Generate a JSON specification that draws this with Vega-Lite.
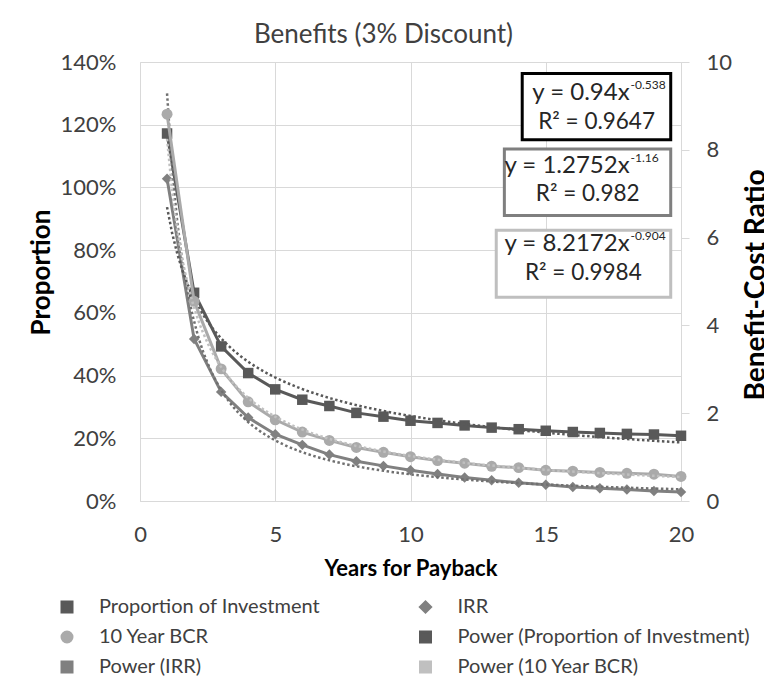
{
  "$schema": "https://vega.github.io/schema/vega-lite/v6.json",
  "autosize": "none",
  "width": 541,
  "height": 439,
  "padding": {"left": 140, "top": 62, "right": 83, "bottom": 182},
  "background": "#ffffff",
  "config": {
    "font": "Lato",
    "view": {"stroke": null},
    "axis": {
      "labelFont": "Lato",
      "titleFont": "Lato",
      "labelFontSize": 22,
      "titleFontSize": 26,
      "titleFontWeight": "bold",
      "labelColor": "#404040",
      "titleColor": "#000000",
      "domainColor": "#d9d9d9",
      "gridColor": "#d9d9d9",
      "tickColor": "#d9d9d9",
      "domainWidth": 1,
      "gridWidth": 1
    },
    "text": {"font": "Lato"}
  },
  "title": {
    "text": "Benefits (3% Discount)",
    "font": "Lato",
    "fontSize": 26,
    "fontWeight": "normal",
    "color": "#404040",
    "anchor": "middle",
    "frame": "group",
    "dx": -27,
    "dy": 18,
    "baseline": "alphabetic",
    "offset": 0
  },
  "datasets": {
    "payback": [
      {"x": 1, "series": "Proportion of Investment", "value": 1.172},
      {"x": 2, "series": "Proportion of Investment", "value": 0.664},
      {"x": 3, "series": "Proportion of Investment", "value": 0.493},
      {"x": 4, "series": "Proportion of Investment", "value": 0.408},
      {"x": 5, "series": "Proportion of Investment", "value": 0.356},
      {"x": 6, "series": "Proportion of Investment", "value": 0.323},
      {"x": 7, "series": "Proportion of Investment", "value": 0.303},
      {"x": 8, "series": "Proportion of Investment", "value": 0.281},
      {"x": 9, "series": "Proportion of Investment", "value": 0.269},
      {"x": 10, "series": "Proportion of Investment", "value": 0.256},
      {"x": 11, "series": "Proportion of Investment", "value": 0.249},
      {"x": 12, "series": "Proportion of Investment", "value": 0.241},
      {"x": 13, "series": "Proportion of Investment", "value": 0.234},
      {"x": 14, "series": "Proportion of Investment", "value": 0.229},
      {"x": 15, "series": "Proportion of Investment", "value": 0.224},
      {"x": 16, "series": "Proportion of Investment", "value": 0.220},
      {"x": 17, "series": "Proportion of Investment", "value": 0.217},
      {"x": 18, "series": "Proportion of Investment", "value": 0.214},
      {"x": 19, "series": "Proportion of Investment", "value": 0.212},
      {"x": 20, "series": "Proportion of Investment", "value": 0.208},
      {"x": 1, "series": "IRR", "value": 1.028},
      {"x": 2, "series": "IRR", "value": 0.517},
      {"x": 3, "series": "IRR", "value": 0.348},
      {"x": 4, "series": "IRR", "value": 0.266},
      {"x": 5, "series": "IRR", "value": 0.213},
      {"x": 6, "series": "IRR", "value": 0.179},
      {"x": 7, "series": "IRR", "value": 0.148},
      {"x": 8, "series": "IRR", "value": 0.127},
      {"x": 9, "series": "IRR", "value": 0.112},
      {"x": 10, "series": "IRR", "value": 0.098},
      {"x": 11, "series": "IRR", "value": 0.086},
      {"x": 12, "series": "IRR", "value": 0.075},
      {"x": 13, "series": "IRR", "value": 0.066},
      {"x": 14, "series": "IRR", "value": 0.058},
      {"x": 15, "series": "IRR", "value": 0.052},
      {"x": 16, "series": "IRR", "value": 0.045},
      {"x": 17, "series": "IRR", "value": 0.041},
      {"x": 18, "series": "IRR", "value": 0.037},
      {"x": 19, "series": "IRR", "value": 0.032},
      {"x": 20, "series": "IRR", "value": 0.029},
      {"x": 1, "series": "10 Year BCR", "value": 8.81},
      {"x": 2, "series": "10 Year BCR", "value": 4.55},
      {"x": 3, "series": "10 Year BCR", "value": 3.01},
      {"x": 4, "series": "10 Year BCR", "value": 2.26},
      {"x": 5, "series": "10 Year BCR", "value": 1.85},
      {"x": 6, "series": "10 Year BCR", "value": 1.57},
      {"x": 7, "series": "10 Year BCR", "value": 1.38},
      {"x": 8, "series": "10 Year BCR", "value": 1.22},
      {"x": 9, "series": "10 Year BCR", "value": 1.11},
      {"x": 10, "series": "10 Year BCR", "value": 1.01},
      {"x": 11, "series": "10 Year BCR", "value": 0.92},
      {"x": 12, "series": "10 Year BCR", "value": 0.86},
      {"x": 13, "series": "10 Year BCR", "value": 0.79},
      {"x": 14, "series": "10 Year BCR", "value": 0.76},
      {"x": 15, "series": "10 Year BCR", "value": 0.70},
      {"x": 16, "series": "10 Year BCR", "value": 0.68},
      {"x": 17, "series": "10 Year BCR", "value": 0.65},
      {"x": 18, "series": "10 Year BCR", "value": 0.63},
      {"x": 19, "series": "10 Year BCR", "value": 0.61},
      {"x": 20, "series": "10 Year BCR", "value": 0.56}
    ]
  },
  "data": {"name": "payback"},
  "layer": [
    {
      "layer": [
        {
          "transform": [{"filter": "datum.series !== '10 Year BCR'"}],
          "mark": {"type": "line", "strokeWidth": 3},
          "encoding": {
            "x": {
              "field": "x", "type": "quantitative",
              "scale": {"domain": [0, 20], "nice": false},
              "axis": {
                "title": "Years for Payback",
                "values": [0, 5, 10, 15, 20],
                "grid": true,
                "ticks": false,
                "labelFlush": false,
                "labelPadding": 23,
                "titleFontSize": 22,
                "titleBaseline": "middle",
                "titleY": 67
              }
            },
            "y": {
              "field": "value", "type": "quantitative",
              "scale": {"domain": [0, 1.4], "nice": false},
              "axis": {
                "orient": "left",
                "title": "Proportion",
                "values": [0, 0.2, 0.4, 0.6, 0.8, 1, 1.2, 1.4],
                "format": ".0%",
                "grid": true,
                "ticks": false,
                "labelPadding": 24,
                "titleAngle": 270,
                "titleX": -99,
                "titleY": 210,
                "titleBaseline": "middle",
                "titleAlign": "center"
              }
            },
            "color": {
              "field": "series", "type": "nominal",
              "scale": {
                "domain": ["Proportion of Investment", "10 Year BCR", "Power (IRR)", "IRR", "Power (Proportion of Investment)", "Power (10 Year BCR)"],
                "range": ["#595959", "#aaaaaa", "#808080", "#808080", "#595959", "#c0c0c0"]
              },
              "legend": {
                "title": null, "orient": "none", "legendX": -83, "legendY": 535, "columns": 2, "columnPadding": 93.5, "rowPadding": 8, "padding": 0,
                "labelFont": "Lato", "labelFontSize": 20, "labelColor": "#404040", "labelLimit": 400, "labelOffset": 22,
                "symbolSize": 100, "symbolOpacity": 1, "symbolStrokeWidth": 3,
                "encode": {"symbols": {"update": {
                  "shape": {"value": {"expr": "datum.value === 'Proportion of Investment' ? 'M-5.8,0H5.8M-0.84,-0.84H0.84V0.84H-0.84Z' : datum.value === 'IRR' ? 'M-5.8,0H5.8M0,-1.1L1.1,0L0,1.1L-1.1,0Z' : datum.value === '10 Year BCR' ? 'M-5.8,0H5.8M0.84,0A0.84,0.84 0 1,1 -0.84,0A0.84,0.84 0 1,1 0.84,0Z' : 'M-6,0h0.4M-4.8,0h0.4M-3.6,0h0.4M-2.4,0h0.4M-1.2,0h0.4M0,0h0.4M1.2,0h0.4M2.4,0h0.4M3.6,0h0.4M4.8,0h0.4M6,0h0.4'"}},
                  "stroke": {"value": {"expr": "scale('color', datum.value)"}},
                  "fill": {"value": {"expr": "scale('color', datum.value)"}},
                  "strokeWidth": {"value": 3},
                  "size": {"value": 100},
                  "opacity": {"value": 1}
                }}}
              }
            }
          }
        },
        {
          "transform": [{"filter": "datum.series !== '10 Year BCR'"}],
          "mark": {"type": "point", "filled": true, "opacity": 1, "size": 110},
          "encoding": {
            "x": {"field": "x", "type": "quantitative"},
            "y": {"field": "value", "type": "quantitative"},
            "color": {
              "field": "series", "type": "nominal",
              "legend": {
                "title": null, "orient": "none", "legendX": -83, "legendY": 535, "columns": 2, "columnPadding": 93.5, "rowPadding": 8, "padding": 0,
                "labelFont": "Lato", "labelFontSize": 20, "labelColor": "#404040", "labelLimit": 400, "labelOffset": 22,
                "symbolSize": 100, "symbolOpacity": 1, "symbolStrokeWidth": 3,
                "encode": {"symbols": {"update": {
                  "shape": {"value": {"expr": "datum.value === 'Proportion of Investment' ? 'M-5.8,0H5.8M-0.84,-0.84H0.84V0.84H-0.84Z' : datum.value === 'IRR' ? 'M-5.8,0H5.8M0,-1.1L1.1,0L0,1.1L-1.1,0Z' : datum.value === '10 Year BCR' ? 'M-5.8,0H5.8M0.84,0A0.84,0.84 0 1,1 -0.84,0A0.84,0.84 0 1,1 0.84,0Z' : 'M-6,0h0.4M-4.8,0h0.4M-3.6,0h0.4M-2.4,0h0.4M-1.2,0h0.4M0,0h0.4M1.2,0h0.4M2.4,0h0.4M3.6,0h0.4M4.8,0h0.4M6,0h0.4'"}},
                  "stroke": {"value": {"expr": "scale('color', datum.value)"}},
                  "fill": {"value": {"expr": "scale('color', datum.value)"}},
                  "strokeWidth": {"value": 3},
                  "size": {"value": 100},
                  "opacity": {"value": 1}
                }}}
              }
            },
            "shape": {
              "field": "series", "type": "nominal",
              "scale": {
                "domain": ["Proportion of Investment", "10 Year BCR", "Power (IRR)", "IRR", "Power (Proportion of Investment)", "Power (10 Year BCR)"],
                "range": ["square", "circle", "square", "diamond", "square", "square"]
              },
              "legend": {
                "title": null, "orient": "none", "legendX": -83, "legendY": 535, "columns": 2, "columnPadding": 93.5, "rowPadding": 8, "padding": 0,
                "labelFont": "Lato", "labelFontSize": 20, "labelColor": "#404040", "labelLimit": 400, "labelOffset": 22,
                "symbolSize": 100, "symbolOpacity": 1, "symbolStrokeWidth": 3,
                "encode": {"symbols": {"update": {
                  "shape": {"value": {"expr": "datum.value === 'Proportion of Investment' ? 'M-5.8,0H5.8M-0.84,-0.84H0.84V0.84H-0.84Z' : datum.value === 'IRR' ? 'M-5.8,0H5.8M0,-1.1L1.1,0L0,1.1L-1.1,0Z' : datum.value === '10 Year BCR' ? 'M-5.8,0H5.8M0.84,0A0.84,0.84 0 1,1 -0.84,0A0.84,0.84 0 1,1 0.84,0Z' : 'M-6,0h0.4M-4.8,0h0.4M-3.6,0h0.4M-2.4,0h0.4M-1.2,0h0.4M0,0h0.4M1.2,0h0.4M2.4,0h0.4M3.6,0h0.4M4.8,0h0.4M6,0h0.4'"}},
                  "stroke": {"value": {"expr": "scale('color', datum.value)"}},
                  "fill": {"value": {"expr": "scale('color', datum.value)"}},
                  "strokeWidth": {"value": 3},
                  "size": {"value": 100},
                  "opacity": {"value": 1}
                }}}
              }
            }
          }
        },
        {
          "transform": [
            {"filter": "datum.series === 'Proportion of Investment'"},
            {"regression": "value", "on": "x", "method": "pow"}
          ],
          "mark": {"type": "line", "color": "#595959", "strokeWidth": 2.5, "strokeDash": [2.5, 2.5]},
          "encoding": {
            "x": {"field": "x", "type": "quantitative"},
            "y": {"field": "value", "type": "quantitative"}
          }
        },
        {
          "transform": [
            {"filter": "datum.series === 'IRR'"},
            {"regression": "value", "on": "x", "method": "pow"}
          ],
          "mark": {"type": "line", "color": "#707070", "strokeWidth": 2.5, "strokeDash": [2.5, 2.5]},
          "encoding": {
            "x": {"field": "x", "type": "quantitative"},
            "y": {"field": "value", "type": "quantitative"}
          }
        },
        {
          "data": {"values": [{"note": "Proportion of Investment"}]},
          "mark": {"type": "rect", "fill": "#ffffff", "stroke": "#000000", "strokeWidth": 3},
          "encoding": {
            "x": {"datum": 14.13, "type": "quantitative"},
            "x2": {"datum": 19.62},
            "y": {"datum": 1.3634, "type": "quantitative"},
            "y2": {"datum": 1.1519}
          }
        },
        {
          "data": {"values": [{"note": "IRR"}]},
          "mark": {"type": "rect", "fill": "#ffffff", "stroke": "#7f7f7f", "strokeWidth": 3},
          "encoding": {
            "x": {"datum": 13.47, "type": "quantitative"},
            "x2": {"datum": 19.62},
            "y": {"datum": 1.1222, "type": "quantitative"},
            "y2": {"datum": 0.9103}
          }
        },
        {
          "data": {"values": [{"note": "10 Year BCR"}]},
          "mark": {"type": "rect", "fill": "#ffffff", "stroke": "#bfbfbf", "strokeWidth": 3},
          "encoding": {
            "x": {"datum": 13.17, "type": "quantitative"},
            "x2": {"datum": 19.62},
            "y": {"datum": 0.8638, "type": "quantitative"},
            "y2": {"datum": 0.65}
          }
        },
        {
          "data": {"values": [
            {"label": "y = 0.94x", "sup": "-0.538", "r2": "R² = 0.9647", "xe": 18.1, "ye": 1.302, "xr": 16.88, "yr": 1.208},
            {"label": "y = 1.2752x", "sup": "-1.16", "r2": "R² = 0.982", "xe": 18.1, "ye": 1.068, "xr": 16.55, "yr": 0.978},
            {"label": "y = 8.2172x", "sup": "-0.904", "r2": "R² = 0.9984", "xe": 18.1, "ye": 0.818, "xr": 16.39, "yr": 0.728}
          ]},
          "layer": [
            {
              "mark": {"type": "text", "align": "right", "baseline": "middle", "fontSize": 24, "color": "#262626", "font": "Lato"},
              "encoding": {
                "x": {"field": "xe", "type": "quantitative"},
                "y": {"field": "ye", "type": "quantitative"},
                "text": {"field": "label"}
              }
            },
            {
              "mark": {"type": "text", "align": "left", "baseline": "middle", "fontSize": 12, "dx": 1, "dy": -8, "color": "#262626", "font": "Lato"},
              "encoding": {
                "x": {"field": "xe", "type": "quantitative"},
                "y": {"field": "ye", "type": "quantitative"},
                "text": {"field": "sup"}
              }
            },
            {
              "mark": {"type": "text", "align": "center", "baseline": "middle", "fontSize": 22.5, "color": "#262626", "font": "Lato"},
              "encoding": {
                "x": {"field": "xr", "type": "quantitative"},
                "y": {"field": "yr", "type": "quantitative"},
                "text": {"field": "r2"}
              }
            }
          ]
        }
      ]
    },
    {
      "encoding": {
        "x": {"field": "x", "type": "quantitative"},
        "y": {
          "field": "value", "type": "quantitative",
          "scale": {"domain": [0, 10], "nice": false},
          "axis": {
            "orient": "right",
            "title": "Benefit-Cost Ratio",
            "values": [0, 2, 4, 6, 8, 10],
            "grid": false,
            "ticks": true,
            "tickSize": 8,
            "labelPadding": 17,
            "titleFontSize": 28,
            "titleAngle": 270,
            "titleX": 75.5,
            "titleY": 222.5,
            "titleBaseline": "middle",
            "titleAlign": "center"
          }
        }
      },
      "layer": [
        {
          "transform": [{"filter": "datum.series === '10 Year BCR'"}],
          "mark": {"type": "line", "strokeWidth": 3},
          "encoding": {
            "color": {
              "field": "series", "type": "nominal",
              "legend": {
                "title": null, "orient": "none", "legendX": -83, "legendY": 535, "columns": 2, "columnPadding": 93.5, "rowPadding": 8, "padding": 0,
                "labelFont": "Lato", "labelFontSize": 20, "labelColor": "#404040", "labelLimit": 400, "labelOffset": 22,
                "symbolSize": 100, "symbolOpacity": 1, "symbolStrokeWidth": 3,
                "encode": {"symbols": {"update": {
                  "shape": {"value": {"expr": "datum.value === 'Proportion of Investment' ? 'M-5.8,0H5.8M-0.84,-0.84H0.84V0.84H-0.84Z' : datum.value === 'IRR' ? 'M-5.8,0H5.8M0,-1.1L1.1,0L0,1.1L-1.1,0Z' : datum.value === '10 Year BCR' ? 'M-5.8,0H5.8M0.84,0A0.84,0.84 0 1,1 -0.84,0A0.84,0.84 0 1,1 0.84,0Z' : 'M-6,0h0.4M-4.8,0h0.4M-3.6,0h0.4M-2.4,0h0.4M-1.2,0h0.4M0,0h0.4M1.2,0h0.4M2.4,0h0.4M3.6,0h0.4M4.8,0h0.4M6,0h0.4'"}},
                  "stroke": {"value": {"expr": "scale('color', datum.value)"}},
                  "fill": {"value": {"expr": "scale('color', datum.value)"}},
                  "strokeWidth": {"value": 3},
                  "size": {"value": 100},
                  "opacity": {"value": 1}
                }}}
              }
            }
          }
        },
        {
          "transform": [{"filter": "datum.series === '10 Year BCR'"}],
          "mark": {"type": "point", "filled": true, "opacity": 1, "size": 120},
          "encoding": {
            "color": {
              "field": "series", "type": "nominal",
              "legend": {
                "title": null, "orient": "none", "legendX": -83, "legendY": 535, "columns": 2, "columnPadding": 93.5, "rowPadding": 8, "padding": 0,
                "labelFont": "Lato", "labelFontSize": 20, "labelColor": "#404040", "labelLimit": 400, "labelOffset": 22,
                "symbolSize": 100, "symbolOpacity": 1, "symbolStrokeWidth": 3,
                "encode": {"symbols": {"update": {
                  "shape": {"value": {"expr": "datum.value === 'Proportion of Investment' ? 'M-5.8,0H5.8M-0.84,-0.84H0.84V0.84H-0.84Z' : datum.value === 'IRR' ? 'M-5.8,0H5.8M0,-1.1L1.1,0L0,1.1L-1.1,0Z' : datum.value === '10 Year BCR' ? 'M-5.8,0H5.8M0.84,0A0.84,0.84 0 1,1 -0.84,0A0.84,0.84 0 1,1 0.84,0Z' : 'M-6,0h0.4M-4.8,0h0.4M-3.6,0h0.4M-2.4,0h0.4M-1.2,0h0.4M0,0h0.4M1.2,0h0.4M2.4,0h0.4M3.6,0h0.4M4.8,0h0.4M6,0h0.4'"}},
                  "stroke": {"value": {"expr": "scale('color', datum.value)"}},
                  "fill": {"value": {"expr": "scale('color', datum.value)"}},
                  "strokeWidth": {"value": 3},
                  "size": {"value": 100},
                  "opacity": {"value": 1}
                }}}
              }
            },
            "shape": {
              "field": "series", "type": "nominal",
              "legend": {
                "title": null, "orient": "none", "legendX": -83, "legendY": 535, "columns": 2, "columnPadding": 93.5, "rowPadding": 8, "padding": 0,
                "labelFont": "Lato", "labelFontSize": 20, "labelColor": "#404040", "labelLimit": 400, "labelOffset": 22,
                "symbolSize": 100, "symbolOpacity": 1, "symbolStrokeWidth": 3,
                "encode": {"symbols": {"update": {
                  "shape": {"value": {"expr": "datum.value === 'Proportion of Investment' ? 'M-5.8,0H5.8M-0.84,-0.84H0.84V0.84H-0.84Z' : datum.value === 'IRR' ? 'M-5.8,0H5.8M0,-1.1L1.1,0L0,1.1L-1.1,0Z' : datum.value === '10 Year BCR' ? 'M-5.8,0H5.8M0.84,0A0.84,0.84 0 1,1 -0.84,0A0.84,0.84 0 1,1 0.84,0Z' : 'M-6,0h0.4M-4.8,0h0.4M-3.6,0h0.4M-2.4,0h0.4M-1.2,0h0.4M0,0h0.4M1.2,0h0.4M2.4,0h0.4M3.6,0h0.4M4.8,0h0.4M6,0h0.4'"}},
                  "stroke": {"value": {"expr": "scale('color', datum.value)"}},
                  "fill": {"value": {"expr": "scale('color', datum.value)"}},
                  "strokeWidth": {"value": 3},
                  "size": {"value": 100},
                  "opacity": {"value": 1}
                }}}
              }
            }
          }
        },
        {
          "transform": [
            {"filter": "datum.series === '10 Year BCR'"},
            {"regression": "value", "on": "x", "method": "pow"}
          ],
          "mark": {"type": "line", "color": "#c0c0c0", "strokeWidth": 2.5, "strokeDash": [2.5, 2.5]},
          "encoding": {}
        }
      ]
    }
  ],
  "resolve": {"scale": {"y": "independent"}}
}
